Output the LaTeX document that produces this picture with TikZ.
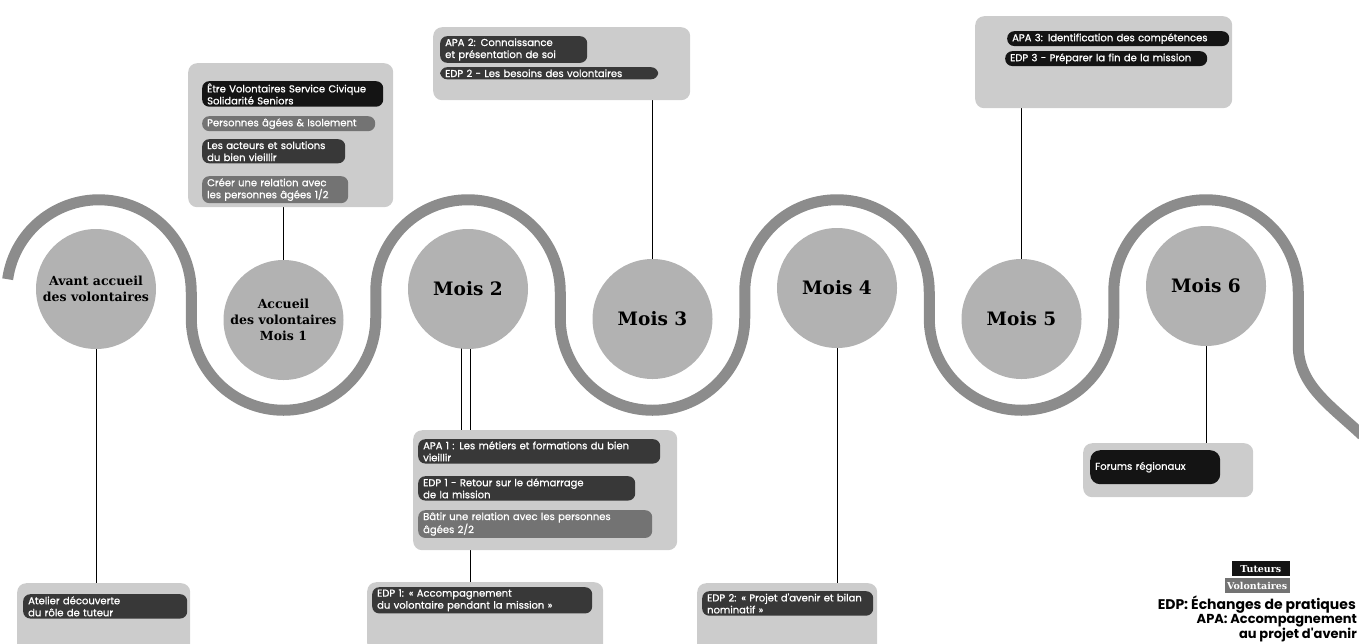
\documentclass[tikz,border=0pt]{standalone}
\usepackage{fontspec}
\newfontfamily\slab{DejaVu Serif}
\newfontfamily\pop{Poppins}
\newfontfamily\popm{Poppins}[FakeBold=0.9]
\usetikzlibrary{backgrounds}
\definecolor{ribbon}{gray}{0.55}
\definecolor{circ}{gray}{0.70}
\definecolor{boxbg}{gray}{0.80}
\definecolor{pillA}{gray}{0.08}
\definecolor{pillB}{gray}{0.22}
\definecolor{pillC}{gray}{0.45}
\newcommand{\pillfont}{\popm\fontsize{10}{12}\selectfont\hyphenpenalty=10000\relax\exhyphenpenalty=10000\relax}
\begin{document}
\begin{tikzpicture}[x=1pt,y=1pt,
  stage/.style={circle, fill=circ, minimum size=120pt, inner sep=0pt, align=center,
    font=\slab\bfseries\fontsize{12.5}{16}\selectfont},
  big/.style={font=\slab\bfseries\fontsize{18.5}{20}\selectfont},
  panel/.style={rectangle, rounded corners=9pt, fill=boxbg, anchor=north west, inner sep=0pt},
  pill/.style={rectangle, rounded corners=7pt, text=white, anchor=north west, align=left,
    inner xsep=5pt, inner ysep=2.2pt, font=\pillfont},
  tut/.style={pill, fill=pillA},
  vold/.style={pill, fill=pillB},
  volc/.style={pill, fill=pillC},
  link/.style={draw=black, line width=0.8pt},
  legbox/.style={rectangle, inner xsep=2.5pt, inner ysep=2pt, minimum height=15pt, text=white,
    font=\slab\bfseries\fontsize{9.5}{11}\selectfont}]
\useasboundingbox (0,0) rectangle (1359,-643);
\clip (0,0) rectangle (1359,-643);

% ribbon
\draw[ribbon, line width=11pt]
  (7.65,-279.2) arc[start angle=172, end angle=0, radius=92.25]
  -- (191.25,-318) arc[start angle=180, end angle=360, radius=92.25]
  -- (375.75,-292) arc[start angle=180, end angle=0, radius=92.25]
  -- (560.25,-318) arc[start angle=180, end angle=360, radius=92.25]
  -- (744.75,-292) arc[start angle=180, end angle=0, radius=92.25]
  -- (929.25,-318) arc[start angle=180, end angle=360, radius=92.25]
  -- (1113.75,-292) arc[start angle=180, end angle=0, radius=92.25]
  -- (1298.25,-345) .. controls (1298.25,-385) and (1330,-405) .. (1362,-435);

% stage circles
\node[stage] (c0) at (96,-289) {Avant accueil\\des volontaires};
\node[stage] (c1) at (283.5,-320) {Accueil\\des volontaires\\Mois 1};
\node[stage, big] (c2) at (468,-289) {Mois 2};
\node[stage, big] (c3) at (652.5,-319) {Mois 3};
\node[stage, big] (c4) at (837,-288) {Mois 4};
\node[stage, big] (c5) at (1021.5,-319) {Mois 5};
\node[stage, big] (c6) at (1206,-286) {Mois 6};

% panels
\node[panel, minimum width=205pt, minimum height=144pt] (b1) at (188,-63) {};
\node[panel, minimum width=257pt, minimum height=73pt] (b2) at (433,-27) {};
\node[panel, minimum width=257pt, minimum height=92pt] (b3) at (975,-16) {};
\node[panel, minimum width=264pt, minimum height=120pt] (b4) at (413,-430) {};
\node[panel, minimum width=173pt, minimum height=70pt] (b5) at (17,-583) {};
\node[panel, minimum width=236pt, minimum height=70pt] (b6) at (367,-582) {};
\node[panel, minimum width=180pt, minimum height=70pt] (b7) at (697,-583) {};
\node[panel, minimum width=170pt, minimum height=54pt] (b8) at (1083,-443) {};

% connectors
\begin{scope}[on background layer]
\draw[link] (c1.north) -- (c1.north |- b1.south);
\draw[link] (c3.north) -- (c3.north |- b2.south);
\draw[link] (c5.north) -- (c5.north |- b3.south);
\coordinate (m2a) at ([xshift=-7pt]c2.center);
\coordinate (m2b) at ([xshift=2pt]c2.center);
\draw[link] (m2a) -- (m2a |- b4.north);
\draw[link] (m2b) -- (m2b |- b6.north);
\draw[link] (c0.south) -- (c0.south |- b5.north);
\draw[link] (c4.south) -- (c4.south |- b7.north);
\draw[link] (c6.south) -- (c6.south |- b8.north);
\end{scope}

% pills box 1
\node[tut, text width=171pt] (p11) at (202,-81) {Être Volontaires Service Civique\\Solidarité Seniors};
\node[volc, text width=163pt] (p12) at (202,-116) {Personnes âgées \& Isolement};
\node[vold, text width=133pt] (p13) at (202,-139) {Les acteurs et solutions\\du bien vieillir};
\node[volc, text width=136pt] (p14) at (202,-176) {Créer une relation avec\\les personnes âgées 1/2};

% pills box 2
\node[vold, text width=137pt] (p21) at (440,-36) {APA 2: Connaissance\\et présentation de soi};
\node[vold, text width=208pt] (p22) at (440,-67) {EDP 2 - Les besoins des volontaires};

% pills box 3
\node[tut, text width=212pt] (p31) at (1007,-31) {APA 3: Identification des compétences};
\node[tut, text width=192pt] (p32) at (1005,-51) {EDP 3 - Préparer la fin de la mission};

% pills box 4
\node[vold, text width=232pt] (p41) at (418,-439) {APA 1 : Les métiers et formations du bien\\vieillir};
\node[vold, text width=207pt] (p42) at (418,-476) {EDP 1 - Retour sur le démarrage\\de la mission};
\node[volc, text width=224pt] (p43) at (418,-510) {Bâtir une relation avec les personnes\\âgées 2/2};

% bottom pills
\node[vold, text width=154pt] (p5) at (23,-594) {Atelier découverte\\du rôle de tuteur};
\node[vold, text width=210pt] (p6) at (372,-587) {EDP 1: « Accompagnement\\du volontaire pendant la mission »};
\node[vold, text width=161pt] (p7) at (702,-591) {EDP 2: « Projet d'avenir et bilan\\nominatif »};
\node[tut, text width=120pt, minimum height=34pt, rounded corners=10pt] (p8) at (1090,-450) {Forums régionaux};

% legend
\node[legbox, fill=pillA, anchor=north east, minimum width=58pt] (lt) at (1290,-561) {Tuteurs};
\node[legbox, fill=pillC, anchor=north east, minimum width=65pt] (lv) at (1290,-578) {Volontaires};
\node[anchor=base east, inner sep=0pt, font=\pop\bfseries\fontsize{14}{16}\selectfont] (edp) at (1356,-609) {EDP: Échanges de pratiques};
\node[anchor=north east, inner sep=0pt, align=right, font=\pop\bfseries\fontsize{13}{12.5}\selectfont] (apa) at (1357,-614) {APA: Accompagnement\\au projet d'avenir};
\end{tikzpicture}
\end{document}
